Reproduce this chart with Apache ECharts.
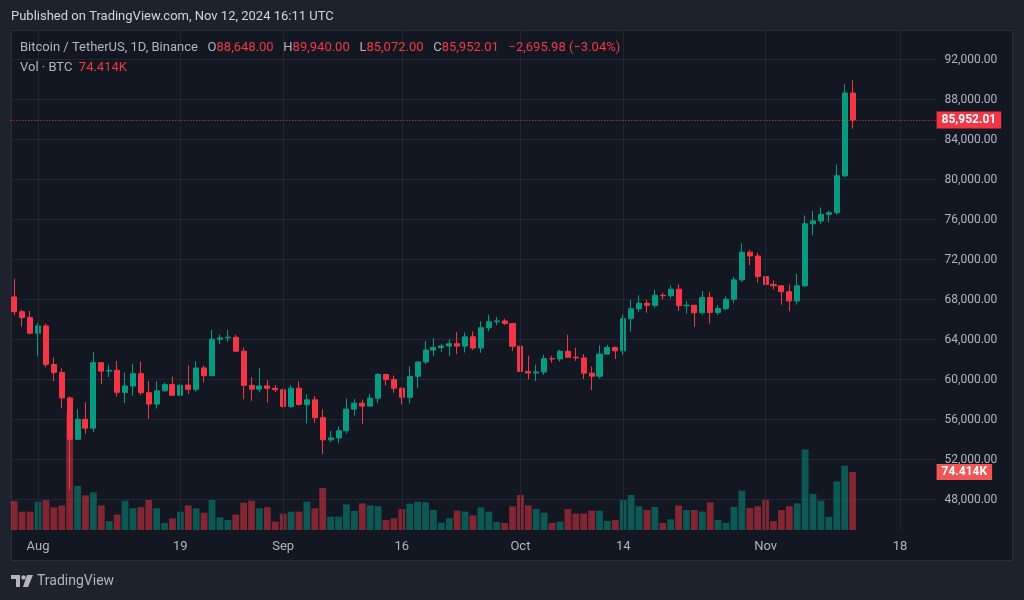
<!doctype html>
<html lang="en">
<head>
    <meta charset="utf-8">
    <title>BTCUSDT 1D</title>
    <script src="https://cdn.jsdelivr.net/npm/echarts@6/dist/echarts.min.js"></script>
    <style>
        body { margin: 0; background: #1e222d; }
        #panel { position: absolute; left: 11px; top: 30px; width: 1000px; height: 529px; background: #131722; border: 1px solid #2a2e39; }
        #chart { position: absolute; left: 0; top: 0; width: 1024px; height: 600px; }
    </style>
</head>
<body>
<div id="panel"></div>
<div id="chart"></div>
<script>
    // daily candles, Binance BTC/USDT
    const dates = [
        'Jul 29', 'Jul 30', 'Jul 31',
        'Aug 1', 'Aug 2', 'Aug 3', 'Aug 4', 'Aug 5', 'Aug 6', 'Aug 7', 'Aug 8', 'Aug 9', 'Aug 10',
        'Aug 11', 'Aug 12', 'Aug 13', 'Aug 14', 'Aug 15', 'Aug 16', 'Aug 17', 'Aug 18', 'Aug 19', 'Aug 20',
        'Aug 21', 'Aug 22', 'Aug 23', 'Aug 24', 'Aug 25', 'Aug 26', 'Aug 27', 'Aug 28', 'Aug 29', 'Aug 30', 'Aug 31',
        'Sep 1', 'Sep 2', 'Sep 3', 'Sep 4', 'Sep 5', 'Sep 6', 'Sep 7', 'Sep 8', 'Sep 9', 'Sep 10',
        'Sep 11', 'Sep 12', 'Sep 13', 'Sep 14', 'Sep 15', 'Sep 16', 'Sep 17', 'Sep 18', 'Sep 19', 'Sep 20',
        'Sep 21', 'Sep 22', 'Sep 23', 'Sep 24', 'Sep 25', 'Sep 26', 'Sep 27', 'Sep 28', 'Sep 29', 'Sep 30',
        'Oct 1', 'Oct 2', 'Oct 3', 'Oct 4', 'Oct 5', 'Oct 6', 'Oct 7', 'Oct 8', 'Oct 9', 'Oct 10',
        'Oct 11', 'Oct 12', 'Oct 13', 'Oct 14', 'Oct 15', 'Oct 16', 'Oct 17', 'Oct 18', 'Oct 19', 'Oct 20',
        'Oct 21', 'Oct 22', 'Oct 23', 'Oct 24', 'Oct 25', 'Oct 26', 'Oct 27', 'Oct 28', 'Oct 29', 'Oct 30', 'Oct 31',
        'Nov 1', 'Nov 2', 'Nov 3', 'Nov 4', 'Nov 5', 'Nov 6', 'Nov 7', 'Nov 8', 'Nov 9', 'Nov 10',
        'Nov 11', 'Nov 12', 'Nov 13', 'Nov 14', 'Nov 15', 'Nov 16', 'Nov 17', 'Nov 18', 'Nov 19', 'Nov 20',
        'Nov 21', 'Nov 22'
    ];
    const opens = [
        68249.88, 66784.69, 66188,
        64628, 65354.02, 61498.34, 60697.99, 58161, 54018.82, 56022, 55133.76, 61686, 60837.99,
        60923.51, 58712.59, 59346.64, 60587.16, 58683.39, 57541.05, 58874.59, 59491.99, 58427.35, 59438.5,
        59013.8, 61156.03, 60375.83, 64037.24, 64157.02, 64219.99, 62834, 59415, 59034.9, 59359.01, 59123.99,
        58974, 57301.77, 59132.12, 57487.74, 57970.9, 56180, 53962.97, 54160.86, 54869.95, 57042.01,
        57635.99, 57338, 58132.31, 60497.99, 59993.02, 59132, 58213.99, 60313.99, 61759.98, 62948,
        63201.05, 63348.97, 63578.76, 63339.99, 64262.7, 63152.01, 65173.99, 65769.95, 65858, 65602.01,
        63327.6, 60804.92, 60649.27, 60752.72, 62086, 62058, 62819.91, 62224.01, 62160.5, 60636.01,
        60326.4, 62539.99, 63206.23, 62870.02, 66084, 67074.14, 67620, 67421.78, 68427.99, 68377.99,
        69032, 67377.5, 67426.01, 66668.65, 68198.27, 66698.32, 67092.76, 68021.69, 69962.21, 72736.41, 72344.75,
        70292.01, 69496, 69374.74, 68775.99, 67850.01, 69372.01, 75571.99, 75857.89, 76509.78, 76677.46,
        80370.01, 88648
    ];
    const highs = [
        70079.99, 67000, 66849.24,
        65659.78, 65596.14, 62198.22, 61117.63, 58305.59, 57040.99, 57736.05, 62745.14, 61744.37, 61470.58,
        61858, 60711.09, 61578.1, 61800, 59849.38, 59817.76, 59700, 60284.99, 59617.63, 61400,
        61820.93, 61400, 64955, 64494.5, 65000, 64481, 63212, 60234.98, 61166.99, 59944.07, 59462.38,
        59076.59, 59425.69, 59809.65, 58519, 58327.07, 57008, 54850, 55318, 58088, 58044.36,
        57981.71, 58588, 60625, 60610.45, 60395.8, 59210.7, 61320, 61786.24, 63850, 64133.32,
        63559.9, 64000, 64745.88, 64688, 64817.99, 65839, 66498, 66260, 66076.12, 65618.8,
        64130.63, 62390.31, 61477.19, 62484.85, 62370.56, 62975, 64478.19, 63200, 62543.75, 61321.68,
        63417.56, 63480, 63285.72, 66500, 67950, 68424, 67939.4, 68969.88, 68693.26, 69400,
        69519.52, 67836.01, 67472.83, 68850, 68771.49, 67454.55, 68332.05, 70270, 73620.12, 72961, 72700,
        71632.95, 69914.37, 69391, 69500, 70577.91, 76400, 76849.99, 77199.99, 76900, 81500,
        89530.54, 89940
    ];
    const lows = [
        66428, 65302.67, 64530,
        62302, 61230.01, 59850, 57122.77, 49000, 53950, 54558.62, 54730, 59535.5, 60242,
        58286.73, 57642.21, 58392.88, 58433.18, 56078.54, 57098.62, 58785.05, 58408.92, 57787.3, 58548.23,
        58783.47, 59724.87, 60342.14, 63531, 63773.27, 62800, 58034.01, 57860, 58713.09, 57701.1, 58744,
        57201, 57128, 57415, 55606, 55643.65, 52550, 53745.54, 53629.01, 54591.96, 56386.4,
        55545.19, 57324, 57632.62, 59400, 58691.05, 57493.3, 57610.01, 59174.8, 61555, 62350,
        62758, 62357.93, 62538.75, 62700, 62947.08, 62670, 64819.9, 65422.23, 65432, 62856.3,
        60164, 59996, 59828.11, 60459.9, 61689.26, 61798.97, 62128, 61860.31, 60050, 58946,
        60087.64, 62487.23, 62050, 62457.81, 64800.01, 66750.49, 66666, 67177.16, 68010, 68100,
        66840.67, 66571.42, 65260, 66510, 65596.29, 66439.9, 66913.73, 67618, 69760, 71436, 69685.76,
        68820, 69000.14, 67478.73, 66835, 67476.63, 69298, 74416, 75555, 75714.66, 76492,
        80216.01, 85072
    ];
    const closes = [
        66784.69, 66188, 64628,
        65354.02, 61498.33, 60697.99, 58161, 54018.81, 56022.01, 55134.16, 61685.99, 60837.99, 60923.51,
        58712.59, 59346.64, 60587.15, 58683.39, 57541.06, 58874.6, 59491.99, 58427.35, 59438.5, 59013.8,
        61156.03, 60375.84, 64037.24, 64157.01, 64220, 62834, 59415, 59034.9, 59359.01, 59123.99, 58973.99,
        57301.86, 59132.13, 57487.73, 57970.9, 56180, 53962.97, 54160.86, 54869.95, 57042, 57635.99,
        57338, 58132.32, 60498, 59993.03, 59132, 58213.99, 60313.99, 61759.99, 62947.99, 63201.05,
        63348.96, 63578.76, 63339.99, 64262.7, 63152.01, 65173.99, 65769.95, 65858, 65602.01, 63327.59,
        60805.78, 60649.28, 60752.71, 62086, 62058, 62819.91, 62224, 62160.49, 60636.02, 60326.39,
        62540, 63206.22, 62870.02, 66083.99, 67074.14, 67620.01, 67421.78, 68428, 68378, 69031.99,
        67377.5, 67426, 66668.65, 68198.28, 66698.33, 67092.76, 68021.7, 69962.21, 72736.42, 72344.74, 70292.01,
        69496.01, 69374.74, 68775.99, 67850.01, 69372.01, 75571.99, 75857.89, 76509.78, 76677.46, 80370.01,
        88647.99, 85952.01
    ];
    // volume in thousands of BTC
    const volumes = [
        37.2, 23.5, 23.5,
        36.4, 38.5, 29.1, 31.6, 150, 56.5, 44.5, 48.3, 31.6, 11.5,
        19.7, 37.6, 27.8, 29.1, 38.5, 27.8, 9.0, 15.0, 23.5, 31.6,
        27.8, 22.2, 38.5, 16.3, 12.8, 19.7, 35.1, 37.6, 27.8, 29.1, 10.7,
        21.0, 23.5, 23.5, 36.4, 27.8, 53.9, 17.1, 17.1, 32.9, 24.4,
        34.2, 31.6, 30.4, 12.8, 15.0, 26.9, 33.8, 36.4, 35.5, 25.7,
        9.4, 15.0, 24.8, 23.5, 18.8, 29.1, 23.5, 10.3, 9.0, 30.4,
        44.9, 31.6, 26.9, 22.2, 9.0, 10.7, 26.9, 21.0, 21.0, 24.8,
        24.8, 11.5, 12.8, 38.5, 44.9, 30.4, 25.7, 29.5, 9.0, 13.7,
        31.6, 25.7, 25.7, 23.5, 35.5, 12.8, 9.0, 29.5, 50.5, 28.2, 30.4,
        38.5, 11.5, 25.7, 30.4, 34.2, 103.5, 46.2, 37.6, 17.1, 62.4,
        82.5, 74.414
    ];
    const dateTicks = ['Aug 1', 'Aug 19', 'Sep 1', 'Sep 16', 'Oct 1', 'Oct 14', 'Nov 1', 'Nov 18'];
    const dateTickText = ['Aug', '19', 'Sep', '16', 'Oct', '14', 'Nov', '18'];

    const UP = '#089981', DOWN = '#f23645';
    const GRIDLINE = '#222631';
    const TXT = '#b2b5be';
    const fmt = v => v.toLocaleString('en-US', {minimumFractionDigits: 2, maximumFractionDigits: 2});

    const last = closes.length - 1;
    const change = closes[last] - closes[last - 1];
    const pct = change / closes[last - 1] * 100;
    const minus = '\u2212';

    let chart = echarts.init(document.getElementById('chart'), null, {renderer: 'canvas'});

    const L = 10.35, R = 88.4;

    chart.setOption({
        backgroundColor: 'transparent',
        animation: false,
        textStyle: {fontFamily: 'Roboto'},
        title: [
            {
                text: 'Published on TradingView.com, Nov 12, 2024 16:11 UTC',
                left: 11, top: 10, padding: 0,
                textStyle: {color: '#d1d4dc', fontSize: 13, fontWeight: 'normal'}
            },
            {
                text: 'Bitcoin / TetherUS, 1D, Binance   O{r|' + fmt(opens[last]) + '}   H{r|' + fmt(highs[last]) +
                    '}   L{r|' + fmt(lows[last]) + '}   C{r|' + fmt(closes[last]) + '}   {r|' +
                    minus + fmt(Math.abs(change)) + ' (' + minus + Math.abs(pct).toFixed(2) + '%)}',
                left: 20, top: 41, padding: 0,
                textStyle: {
                    color: TXT, fontSize: 13, fontWeight: 'normal',
                    rich: {r: {color: DOWN, fontSize: 13}}
                }
            },
            {
                text: 'Vol \u00b7 BTC  {r|' + volumes[last].toFixed(3) + 'K}',
                left: 20, top: 61, padding: 0,
                textStyle: {
                    color: TXT, fontSize: 13, fontWeight: 'normal',
                    rich: {r: {color: DOWN, fontSize: 13}}
                }
            },
            {
                text: 'TradingView',
                left: 37, top: 574, padding: 0,
                textStyle: {color: '#b2b5be', fontSize: 14, fontWeight: 'normal'}
            }
        ],
        graphic: [
            {type: 'polygon', shape: {points: [[11, 575], [20, 575], [20, 587], [16, 587], [16, 579], [11, 579]]}, style: {fill: '#b2b5be'}},
            {type: 'circle', shape: {cx: 23.5, cy: 577.5, r: 2.2}, style: {fill: '#b2b5be'}},
            {type: 'polygon', shape: {points: [[27, 575], [33, 575], [28, 587], [23, 587]]}, style: {fill: '#b2b5be'}}
        ],
        grid: [
            {left: L, right: R, top: 59.5, bottom: 100.5},
            {left: L, right: R, top: 30, bottom: 70}
        ],
        xAxis: [
            {
                type: 'category', gridIndex: 0, data: dates, boundaryGap: true,
                axisLine: {show: false}, axisTick: {show: false}, axisLabel: {show: false},
                splitLine: {show: false}
            },
            {
                type: 'category', gridIndex: 1, data: dates, boundaryGap: true,
                axisLine: {show: false}, axisTick: {show: false}, splitLine: {show: false},
                axisLabel: {
                    color: TXT, fontSize: 13, margin: 10,
                    interval: (i, v) => dateTicks.includes(v),
                    formatter: v => dateTickText[dateTicks.indexOf(v)]
                }
            }
        ],
        yAxis: [
            {
                type: 'value', gridIndex: 0, position: 'right',
                min: 48000, max: 92000, interval: 4000,
                axisLine: {show: false}, axisTick: {show: false},
                splitLine: {lineStyle: {color: GRIDLINE, width: 1}},
                axisLabel: {color: TXT, fontSize: 12, margin: 9, formatter: v => fmt(v)}
            },
            {
                type: 'value', gridIndex: 1, min: 0, max: 641.5, show: false,
                splitLine: {show: false}
            }
        ],
        series: [
            {
                name: 'Vol',
                type: 'bar',
                xAxisIndex: 1, yAxisIndex: 1,
                barWidth: '86%',
                z: 1,
                data: volumes.map((v, i) => ({
                    value: v,
                    itemStyle: {color: closes[i] >= opens[i] ? 'rgba(8,153,129,0.5)' : 'rgba(242,54,69,0.5)'}
                })),
                markLine: {
                    silent: true,
                    symbol: 'none',
                    label: {show: false},
                    lineStyle: {color: GRIDLINE, type: 'solid', width: 1},
                    data: dateTicks.map(d => ({xAxis: d})).concat([{
                        yAxis: volumes[last],
                        lineStyle: {color: 'rgba(0,0,0,0)', width: 1},
                        label: {
                            show: true, position: 'end', distance: 1,
                            formatter: volumes[last].toFixed(3) + 'K',
                            color: '#fff', fontSize: 12, fontWeight: 'bold',
                            backgroundColor: '#f05656', padding: [2, 5, 2, 5]
                        }
                    }])
                }
            },
            {
                name: 'BTCUSDT',
                type: 'candlestick',
                xAxisIndex: 0, yAxisIndex: 0,
                barWidth: '70%',
                z: 3,
                itemStyle: {color: UP, color0: DOWN, borderColor: UP, borderColor0: DOWN, borderWidth: 1},
                data: opens.map((o, i) => [o, closes[i], lows[i], highs[i]]),
                markLine: {
                    silent: true,
                    symbol: 'none',
                    lineStyle: {color: DOWN, type: [1, 2], width: 1},
                    label: {
                        position: 'end', distance: 1,
                        formatter: p => fmt(p.value),
                        color: '#fff', fontSize: 12, fontWeight: 'bold',
                        backgroundColor: DOWN, padding: [3, 5, 2, 5]
                    },
                    data: [{yAxis: closes[last]}]
                }
            }
        ]
    });

    window.onresize = function () {
        chart.resize();
    };
</script>
</body>
</html>
